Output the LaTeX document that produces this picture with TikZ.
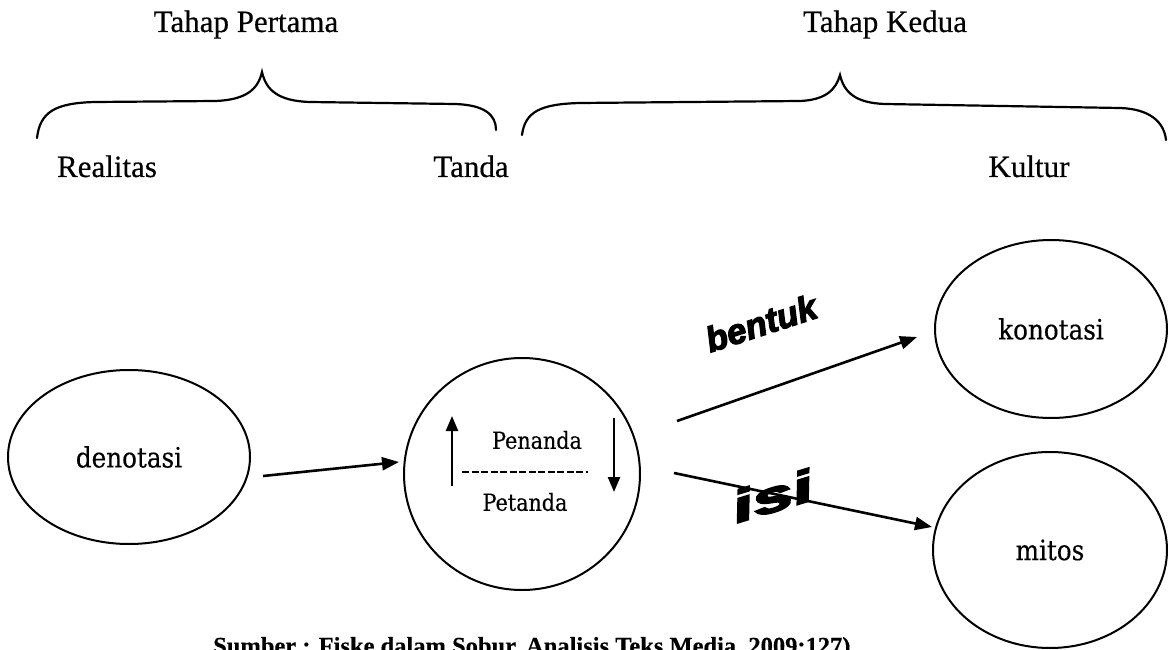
\documentclass[tikz,border=0pt]{standalone}
\usepackage{fontspec}
\setmainfont{Liberation Serif}[FakeBold=0.4]
\newfontfamily\labelfont{DejaVu Serif}[FakeStretch=0.88,FakeBold=0.4]
\newfontfamily\artfont{Liberation Sans}[FakeBold=3.5]
\usetikzlibrary{shapes.geometric,arrows.meta,calc}

\begin{document}
\begin{tikzpicture}[x=1pt,y=-1pt,
  title/.style={font=\fontsize{31}{34}\selectfont, anchor=base, inner sep=0},
  oval/.style={ellipse, draw, line width=2pt, inner sep=0,
    font=\labelfont\fontsize{28}{32}\selectfont},
  conn/.style={line width=2.6pt, -{Triangle[length=17pt,width=13pt]}},
  innerarrow/.style={line width=2.4pt, -{Triangle[length=15pt,width=12pt]}},
  brace/.style={line width=2.2pt, line cap=round},
  inner/.style={font=\labelfont\fontsize{23.5}{26}\selectfont, inner sep=0},
  art/.style={font=\artfont\bfseries\itshape\fontsize{#1}{#1}\selectfont, inner sep=0}
]
\useasboundingbox (0,0) rectangle (1168,650);
\clip (0,0) rectangle (1168,650);

% stage headings and their end labels
\node[title] (t1) at (246,32) {Tahap Pertama};
\node[title] (t2) at (885,32) {Tahap Kedua};
\node[title] (real) at (107,177) {Realitas};
\node[title] (tanda) at (471,177) {Tanda};
\node[title] (kult) at (1029,177) {Kultur};

% curly braces over each stage
\draw[brace] (37,138) .. controls (40,112) and (55,103) .. (95,102)
  -- (215,101) .. controls (245,100) and (258,90) .. (262,72)
  .. controls (266,90) and (278,101) .. (310,102)
  -- (455,104) .. controls (485,105) and (496,115) .. (496,130);
\draw[brace] (522,135) .. controls (525,112) and (540,104) .. (580,103)
  -- (800,101) .. controls (825,100) and (836,90) .. (840,75)
  .. controls (844,92) and (855,103) .. (885,104)
  -- (1120,108) .. controls (1150,109) and (1164,122) .. (1166,140);

% ovals
\node[oval, minimum width=242pt, minimum height=174pt] (deno) at (129,457) {denotasi};
\node[oval, minimum width=236pt, minimum height=232pt] (sign) at (522,474) {};
\node[oval, minimum width=232pt, minimum height=178pt] (kono) at (1051,329) {konotasi};
\node[oval, minimum width=234pt, minimum height=196pt] (mitos) at (1050,550) {mitos};

% inside the sign: signifier over signified
\node[inner] (pen) at (537,440) {Penanda};
\node[inner] (pet) at (525,502) {Petanda};
\draw[line width=1.8pt, dash pattern=on 7pt off 2.5pt]
  ($(sign)+(-60,-2)$) -- ($(sign)+(66,-2)$);
\draw[innerarrow] ($(sign)+(-70,12)$) -- ($(sign)+(-70,-58)$);
\draw[innerarrow] ($(sign)+(92,-56)$) -- ($(sign)+(92,18)$);

% connectors
\draw[conn] ($(deno.east)+(12,19)$) -- ($(sign.west)+(-4,-12)$);
\draw[conn] ($(sign.east)+(36,-53)$) -- ($(kono.west)+(-17,8)$);
\draw[conn] ($(sign.east)+(33,-1)$) -- ($(mitos.west)+(0,-23)$);

% word-art labels on the two branches
\node[art=35, rotate=18] (bentuk) at (761,323) {bentuk};
\node[art=44, rotate=17] (isi) at (772,496) {\scalebox{1.7}[1]{isi}};

% source line
\node[font=\bfseries\fontsize{24.5}{28}\selectfont, anchor=base west, inner sep=0]
  (src) at (213,654) {Sumber : Fiske dalam Sobur, Analisis Teks Media, 2009:127)};
\end{tikzpicture}
\end{document}
